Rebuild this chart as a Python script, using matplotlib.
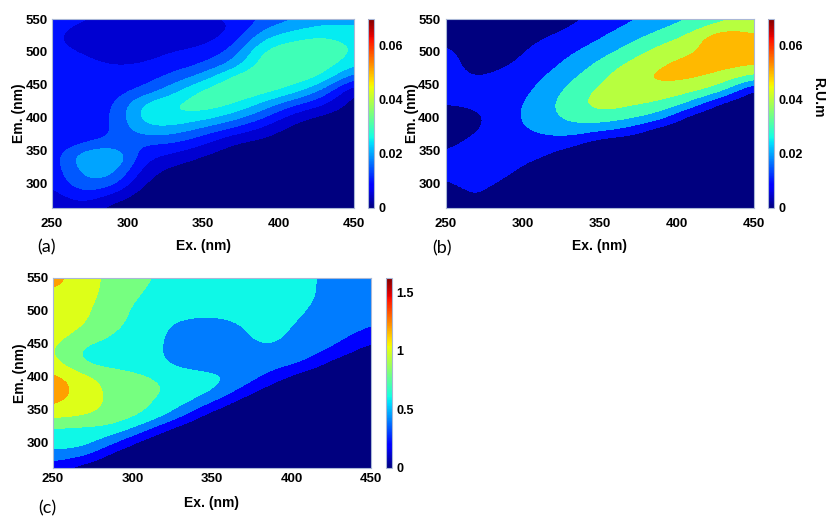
import numpy as np
import matplotlib
matplotlib.use('Agg')
import matplotlib.pyplot as plt
from matplotlib import cm
from matplotlib.colors import Normalize, ListedColormap, BoundaryNorm

plt.rcParams['font.family'] = ['Liberation Sans', 'DejaVu Sans']
plt.rcParams['font.weight'] = 'bold'
plt.rcParams['font.size'] = 10
plt.rcParams['xtick.labelsize'] = 9.5
plt.rcParams['ytick.labelsize'] = 9.5

# excitation / emission grid (nm)
ex = [250, 270, 290, 310, 330, 350, 370, 390, 410, 430, 450]
em = [260, 280, 300, 320, 340, 360, 380, 400, 420, 440, 460, 480, 500, 520, 540, 560]

# rows listed from the top (Em=560) down to Em=260
eem_a = [
    [.011, .011, .010, .010, .010, .011, .012, .014, .018, .021, .021],
    [.011, .010, .008, .008, .008, .008, .009, .018, .022, .025, .025],
    [.011, .008, .007, .007, .007, .008, .011, .025, .029, .031, .028],
    [.011, .010, .008, .008, .010, .011, .016, .032, .034, .035, .029],
    [.011, .011, .010, .010, .012, .015, .021, .034, .035, .034, .026],
    [.013, .011, .011, .012, .017, .022, .033, .035, .034, .030, .016],
    [.013, .012, .012, .016, .023, .032, .035, .033, .028, .019, .004],
    [.011, .012, .013, .027, .030, .034, .031, .024, .016, .011, .002],
    [.011, .012, .014, .028, .030, .028, .023, .016, .007, .003, .002],
    [.011, .012, .014, .024, .023, .018, .013, .008, .002, .002, .002],
    [.011, .014, .017, .015, .015, .011, .004, .003, .002, .002, .002],
    [.011, .025, .029, .011, .009, .004, .002, .002, .002, .002, .002],
    [.011, .022, .024, .008, .003, .002, .002, .002, .002, .002, .002],
    [.010, .020, .019, .004, .002, .002, .002, .002, .002, .002, .002],
    [.007, .014, .008, .002, .002, .002, .002, .002, .002, .002, .002],
    [.004, .008, .002, .002, .002, .002, .002, .002, .002, .002, .002],
]

eem_b = [
    [.004, .003, .002, .002, .005, .012, .018, .022, .028, .036, .042],
    [.004, .003, .003, .004, .009, .016, .020, .027, .034, .042, .044],
    [.007, .004, .004, .009, .014, .019, .027, .036, .044, .063, .052],
    [.013, .005, .006, .013, .018, .025, .035, .045, .049, .056, .055],
    [.013, .007, .009, .015, .022, .033, .043, .050, .054, .054, .052],
    [.013, .009, .013, .018, .028, .038, .048, .053, .052, .047, .036],
    [.012, .013, .015, .021, .033, .043, .046, .047, .043, .035, .003],
    [.011, .012, .016, .024, .036, .045, .042, .039, .028, .003, .002],
    [.005, .007, .017, .025, .033, .038, .033, .026, .002, .002, .002],
    [.004, .009, .017, .021, .027, .022, .016, .002, .002, .002, .002],
    [.007, .014, .016, .016, .014, .002, .002, .002, .002, .002, .002],
    [.012, .015, .015, .012, .003, .002, .002, .002, .002, .002, .002],
    [.012, .015, .013, .004, .002, .002, .002, .002, .002, .002, .002],
    [.009, .014, .008, .002, .002, .002, .002, .002, .002, .002, .002],
    [.004, .012, .002, .002, .002, .002, .002, .002, .002, .002, .002],
    [.003, .011, .002, .002, .002, .002, .002, .002, .002, .002, .002],
]

eem_c = [
    [1.30, 1.10, 0.90, 0.82, 0.72, 0.70, 0.70, 0.68, 0.63, 0.55, 0.50],
    [1.25, 1.10, 0.90, 0.80, 0.72, 0.70, 0.70, 0.67, 0.62, 0.55, 0.50],
    [1.15, 1.08, 0.88, 0.76, 0.70, 0.69, 0.70, 0.67, 0.62, 0.55, 0.50],
    [1.12, 1.05, 0.85, 0.72, 0.68, 0.66, 0.66, 0.65, 0.60, 0.53, 0.48],
    [1.10, 1.02, 0.83, 0.70, 0.55, 0.52, 0.62, 0.63, 0.58, 0.52, 0.40],
    [1.08, 0.92, 0.75, 0.68, 0.52, 0.50, 0.60, 0.63, 0.55, 0.45, 0.30],
    [1.05, 0.70, 0.70, 0.68, 0.50, 0.48, 0.57, 0.60, 0.50, 0.35, 0.05],
    [1.10, 0.76, 0.72, 0.70, 0.52, 0.50, 0.52, 0.50, 0.38, 0.03, 0.02],
    [1.30, 1.05, 0.90, 0.82, 0.72, 0.66, 0.55, 0.30, 0.02, 0.02, 0.02],
    [1.35, 1.10, 0.92, 0.85, 0.75, 0.66, 0.35, 0.02, 0.02, 0.02, 0.02],
    [1.25, 1.08, 0.95, 0.82, 0.68, 0.40, 0.02, 0.02, 0.02, 0.02, 0.02],
    [1.05, 1.02, 0.90, 0.78, 0.45, 0.02, 0.02, 0.02, 0.02, 0.02, 0.02],
    [0.75, 0.72, 0.75, 0.40, 0.02, 0.02, 0.02, 0.02, 0.02, 0.02, 0.02],
    [0.70, 0.72, 0.40, 0.02, 0.02, 0.02, 0.02, 0.02, 0.02, 0.02, 0.02],
    [0.50, 0.45, 0.02, 0.02, 0.02, 0.02, 0.02, 0.02, 0.02, 0.02, 0.02],
    [0.30, 0.02, 0.02, 0.02, 0.02, 0.02, 0.02, 0.02, 0.02, 0.02, 0.02],
]

levels_a = [0, .005, .01, .015, .02, .025, .03, .035]
levels_b = [0, .01, .02, .03, .04, .05, .06, .07]
levels_c = [0, .2, .4, .6, .8, 1.0, 1.2, 1.4, 1.6]

edge = '#a9b7d6'
W, H = 835, 528


def box(l, t, w, h):
    return [l / W, 1 - (t + h) / H, w / W, h / H]


def panel(fig, pos, cpos, z, levels, vmax, cticks, cticklabels, xpad, ypad, xlab_y, ylab_x):
    ax = fig.add_axes(box(*pos))
    Z = np.flipud(np.array(z))
    # band colours taken from jet at the lower level of each band (MATLAB contourf style)
    cols = [cm.jet(l / vmax) for l in levels[:-1]]
    cmap = ListedColormap(cols)
    cmap.set_under(cols[0])
    cmap.set_over(cols[-1])
    norm = BoundaryNorm(levels, cmap.N)
    dx = (ex[1] - ex[0]) / 2
    dy = (em[1] - em[0]) / 2
    ax.imshow(Z, origin='lower', aspect='auto', cmap=cmap, norm=norm,
              extent=(ex[0] - dx, ex[-1] + dx, em[0] - dy, em[-1] + dy),
              interpolation='bicubic', interpolation_stage='data')
    ax.set_xlim(250, 450)
    ax.set_ylim(262, 550)
    ax.set_xticks([250, 300, 350, 400, 450])
    ax.set_yticks([300, 350, 400, 450, 500, 550])
    ax.tick_params(length=0)
    ax.tick_params(axis='x', pad=xpad)
    ax.tick_params(axis='y', pad=ypad)
    for s in ax.spines.values():
        s.set_color(edge)
        s.set_linewidth(0.8)
    ax.set_xlabel('Ex. (nm)', fontweight='bold')
    ax.set_ylabel('Em. (nm)', fontweight='bold')
    ax.xaxis.set_label_coords(0.5, xlab_y)
    ax.yaxis.set_label_coords(ylab_x, 0.5)

    cax = fig.add_axes(box(*cpos))
    sm = cm.ScalarMappable(norm=Normalize(0, vmax), cmap='jet')
    cb = fig.colorbar(sm, cax=cax, ticks=cticks)
    cb.ax.set_yticklabels(cticklabels)
    cb.ax.tick_params(length=0, pad=3, labelsize=9)
    cb.outline.set_edgecolor(edge)
    cb.outline.set_linewidth(0.8)
    return ax


fig = plt.figure(figsize=(W / 100, H / 100), dpi=100)

panel(fig, (52, 19, 302, 189), (368, 19, 6, 189), eem_a, levels_a, 0.07,
      [0, 0.02, 0.04, 0.06], ['0', '0.02', '0.04', '0.06'], 7, 3, -0.165, -0.086)
panel(fig, (446, 19, 308, 189), (768, 19, 6, 189), eem_b, levels_b, 0.07,
      [0, 0.02, 0.04, 0.06], ['0', '0.02', '0.04', '0.06'], 7, 4, -0.165, -0.088)
panel(fig, (53, 278, 318, 190), (386, 278, 6, 190), eem_c, levels_c, 1.62,
      [0, 0.5, 1, 1.5], ['0', '0.5', '1', '1.5'], 3.5, 3, -0.145, -0.082)

fig.text(818 / W, 1 - 97 / H, 'R.U.m', rotation=-90, ha='center', va='center',
         fontweight='bold')

for label, x, y in [('(a)', 37, 247), ('(b)', 432, 248), ('(c)', 38, 508)]:
    fig.text(x / W, 1 - y / H, label, ha='left', va='center', fontsize=13,
             fontweight='normal', family=['Lato', 'DejaVu Sans'])

fig.savefig('out.png', dpi=100)
